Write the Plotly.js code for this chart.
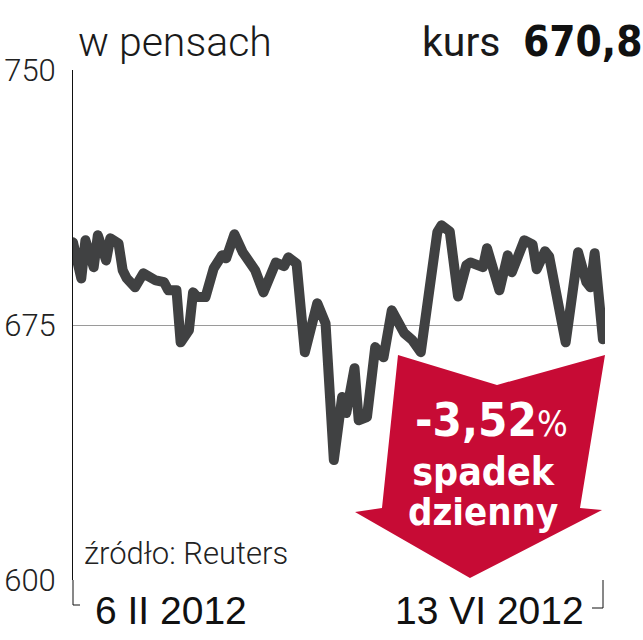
<!DOCTYPE html>
<html>
<head>
<meta charset="utf-8">
<script src="https://cdn.plot.ly/plotly-3.0.1.min.js"></script>
<style>
  html, body { margin: 0; padding: 0; background: #fff; }
  #chart { width: 643px; height: 640px; }
  .scatterlayer path.js-line { stroke-linejoin: round !important; stroke-linecap: round !important; }
</style>
</head>
<body>
<div id="chart"></div>
<script>
// ---- data ----
const dates = [
  '2012-02-06','2012-02-08','2012-02-09','2012-02-11','2012-02-12','2012-02-14','2012-02-15','2012-02-17',
  '2012-02-18','2012-02-19','2012-02-21','2012-02-23','2012-02-26','2012-02-28','2012-02-29','2012-03-02',
  '2012-03-03','2012-03-05','2012-03-06','2012-03-07','2012-03-09','2012-03-11','2012-03-13','2012-03-14',
  '2012-03-16','2012-03-18','2012-03-21','2012-03-23','2012-03-26','2012-03-28','2012-03-29','2012-03-31',
  '2012-04-02','2012-04-05','2012-04-07','2012-04-09','2012-04-11','2012-04-12','2012-04-14','2012-04-15',
  '2012-04-17','2012-04-19','2012-04-21','2012-04-23','2012-04-26','2012-04-28','2012-04-30','2012-05-04',
  '2012-05-05','2012-05-07','2012-05-09','2012-05-11','2012-05-12','2012-05-15','2012-05-16','2012-05-19',
  '2012-05-21','2012-05-22','2012-05-25','2012-05-27','2012-05-28','2012-05-30','2012-05-31','2012-06-04',
  '2012-06-07','2012-06-09','2012-06-10','2012-06-11','2012-06-13'
];
const prices = [
  699.3, 688.7, 699.9, 692.0, 701.4, 694.0, 700.5, 699.0,
  691.1, 688.7, 686.1, 690.2, 688.1, 687.6, 685.2, 685.2,
  669.9, 673.5, 684.6, 683.2, 683.2, 691.7, 695.5, 694.6,
  701.7, 696.4, 691.1, 684.6, 693.4, 692.3, 694.9, 693.1,
  667.0, 681.4, 675.5, 635.3, 653.8, 649.1, 662.3, 647.0,
  647.9, 668.5, 665.5, 679.3, 672.6, 670.5, 667.0, 702.3,
  704.3, 702.5, 683.4, 692.6, 693.4, 692.0, 697.6, 685.2,
  695.5, 690.5, 699.9, 698.7, 691.4, 696.7, 695.2, 669.9,
  696.4, 687.6, 686.1, 696.1, 670.8
];
const yTickVals = [600, 675, 750];
const yTickText = ['600', '675', '750'];
const xTickDates = ['2012-02-06', '2012-06-13'];
const xTickLabels = ['6 II 2012', '13 VI 2012'];
const titleText = 'w pensach';
const kursLabel = 'kurs';
const kursValue = '670,8';
const changeText = '-3,52';
const changeLine2 = 'spadek';
const changeLine3 = 'dzienny';
const sourceText = 'źródło: Reuters';

// ---- layout helpers (pixel -> paper) ----
const W = 643, H = 640;
const M = { l: 73, r: 38, t: 70, b: 60 };
const PW = W - M.l - M.r, PH = H - M.t - M.b;
const px = x => (x - M.l) / PW;
const py = y => (H - M.b - y) / PH;

const condBold = "'DejaVu Sans Condensed', 'Liberation Sans Narrow', 'DejaVu Sans', sans-serif";
const light = "Roboto, 'Liberation Sans', sans-serif";

const arrowPts = [[398,355],[497,385],[605,355],[580,508],[602,510],[470,578],[355,512],[382,508]];
const arrowPath = 'M ' + arrowPts.map(p => px(p[0]).toFixed(4) + ',' + py(p[1]).toFixed(4)).join(' L ') + ' Z';

const trace = {
  x: dates, y: prices, type: 'scatter', mode: 'lines',
  line: { color: '#404142', width: 10 },
  hoverinfo: 'skip'
};

const layout = {
  width: W, height: H,
  margin: M,
  paper_bgcolor: '#fff', plot_bgcolor: '#fff',
  showlegend: false,
  xaxis: {
    type: 'date', range: ['2012-02-06', '2012-06-13 12:00'],
    showgrid: false, zeroline: false, showline: false, showticklabels: false, ticks: ''
  },
  yaxis: {
    range: [600, 750], tickvals: yTickVals, ticktext: yTickText,
    showgrid: true, gridcolor: '#9a9a9a', gridwidth: 1,
    zeroline: false, showline: true, linecolor: '#111', linewidth: 1,
    ticks: '', ticklabelstandoff: 10,
    tickfont: { family: light, size: 31, color: '#222', weight: 300 }
  },
  shapes: [
    { type: 'line', xref: 'paper', yref: 'paper', x0: 0, x1: 0, y0: 0, y1: py(605), line: { color: '#111', width: 1 } },
    { type: 'line', xref: 'paper', yref: 'paper', x0: 0, x1: px(80), y0: py(605), y1: py(605), line: { color: '#111', width: 1 } },
    { type: 'line', xref: 'paper', yref: 'paper', x0: px(603), x1: px(603), y0: 0, y1: py(608), line: { color: '#111', width: 1 } },
    { type: 'line', xref: 'paper', yref: 'paper', x0: px(592), x1: px(603), y0: py(608), y1: py(608), line: { color: '#111', width: 1 } },
    { type: 'path', xref: 'paper', yref: 'paper', path: arrowPath, fillcolor: '#c70b35', line: { width: 0 }, layer: 'above' }
  ],
  annotations: [
    { text: titleText, xref: 'paper', yref: 'paper', x: px(76), y: py(42), xanchor: 'left', yanchor: 'middle', showarrow: false,
      font: { family: light, size: 41, color: '#1a1a1a', weight: 300 } },
    { text: kursLabel, xref: 'paper', yref: 'paper', x: px(420), y: py(42), xanchor: 'left', yanchor: 'middle', showarrow: false,
      font: { family: light, size: 41, color: '#1a1a1a' } },
    { text: kursValue, xref: 'paper', yref: 'paper', x: px(521), y: py(42), xanchor: 'left', yanchor: 'middle', showarrow: false,
      font: { family: condBold, size: 42, color: '#111', weight: 700 } },
    { text: changeText + '<span style="font-size:36px;font-weight:400">%</span>', xref: 'paper', yref: 'paper', x: px(491), y: py(419), xanchor: 'center', yanchor: 'middle', showarrow: false,
      font: { family: condBold, size: 47, color: '#fff', weight: 700 } },
    { text: '<span style="font-size:39px">' + changeLine2 + '</span><br><span style="font-size:38px">' + changeLine3 + '</span>',
      xref: 'paper', yref: 'paper', x: px(483), y: py(491), xanchor: 'center', yanchor: 'middle', align: 'center', showarrow: false,
      font: { family: condBold, size: 31, color: '#fff', weight: 700 } },
    { text: sourceText, xref: 'paper', yref: 'paper', x: px(82), y: py(553), xanchor: 'left', yanchor: 'middle', showarrow: false,
      font: { family: light, size: 31, color: '#222', weight: 300 } },
    { text: xTickLabels[0], xref: 'x', yref: 'paper', x: xTickDates[0], xshift: 20, y: py(610), xanchor: 'left', yanchor: 'middle', showarrow: false,
      font: { family: "'Liberation Sans', Arial, sans-serif", size: 39, color: '#111' } },
    { text: xTickLabels[1], xref: 'x', yref: 'paper', x: xTickDates[1], xshift: -17, y: py(610), xanchor: 'right', yanchor: 'middle', showarrow: false,
      font: { family: "'Liberation Sans', Arial, sans-serif", size: 39, color: '#111' } }
  ]
};

Plotly.newPlot('chart', [trace], layout, { staticPlot: true, displayModeBar: false });
</script>
</body>
</html>
